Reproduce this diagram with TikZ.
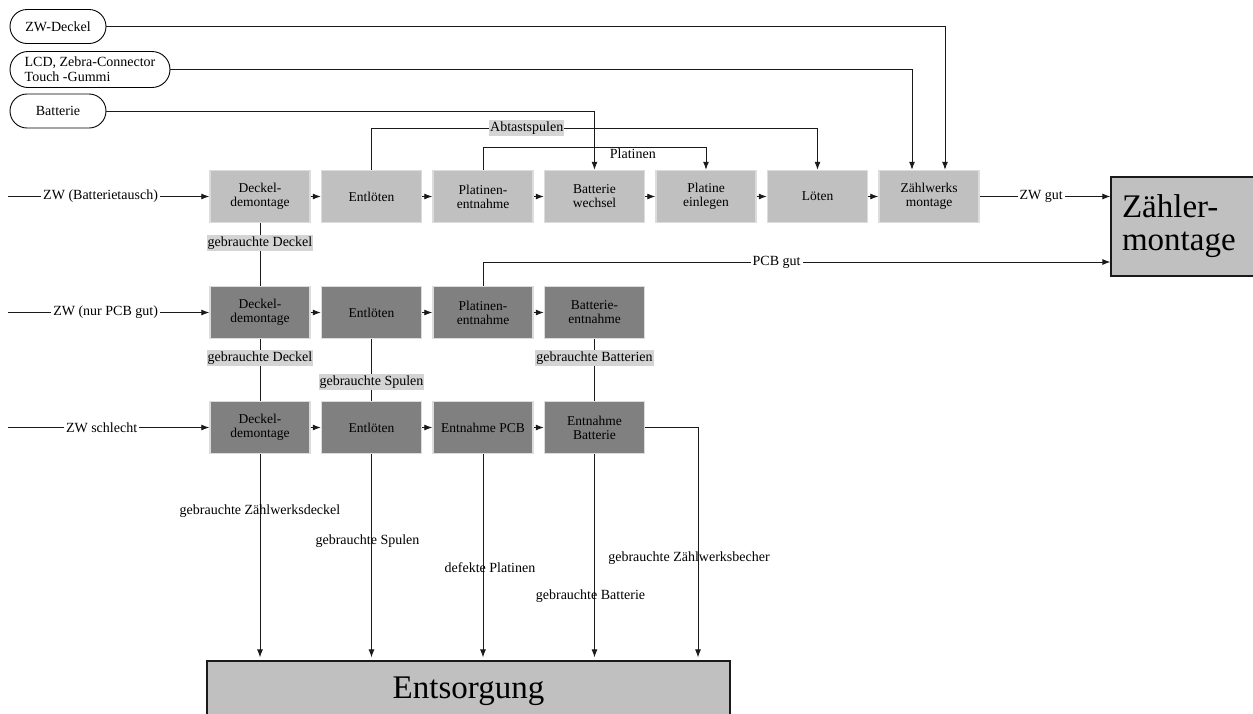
\documentclass[tikz,border=0pt]{standalone}
\usepackage{fontspec}
\setmainfont{Liberation Serif}
\usetikzlibrary{arrows.meta,shapes.misc,calc}
\definecolor{boxlight}{HTML}{C0C0C0}
\definecolor{boxdark}{HTML}{808080}
\definecolor{rim}{HTML}{DCDCDC}
\definecolor{lblbg}{HTML}{D4D4D4}
\definecolor{linec}{HTML}{1A1A1A}
\begin{document}
\begin{tikzpicture}[x=1pt,y=-1pt,
  font=\fontsize{14}{15}\selectfont,
  lnk/.style={draw=linec, line width=0.9pt},
  arr/.style={lnk, -{Latex[length=8pt,width=6pt]}},
  procL/.style={rectangle, fill=boxlight, draw=rim, line width=1.5pt,
    minimum width=100pt, minimum height=52pt, inner sep=1pt, align=center,
    font=\fontsize{13.5}{14}\selectfont},
  procD/.style={procL, fill=boxdark},
  grayl/.style={fill=lblbg, inner xsep=1pt, inner ysep=1.5pt},
  whitel/.style={fill=white, inner xsep=2pt, inner ysep=1pt},
  plainl/.style={inner sep=1pt},
  src/.style={rounded rectangle, draw=black, line width=0.9pt,
    minimum height=34pt, minimum width=100pt, inner sep=2pt},
  big/.style={rectangle, fill=boxlight, draw=linec, line width=1.2pt,
    font=\fontsize{33}{33}\selectfont}
]
\useasboundingbox (0,0) rectangle (1253,713);

% sources
\node[src] (zwd) at (58,26.5) {ZW-Deckel};
\node[src, minimum width=164pt, minimum height=36pt, align=left] (lcd) at (90,69.5) {LCD, Zebra-Connector\\Touch -Gummi};
\node[src] (bat) at (58,111) {Batterie};

% top row
\node[procL] (d1) at (260,196.5) {Deckel-\\demontage};
\node[procL] (e1) at (371.5,196.5) {Entlöten};
\node[procL] (p1) at (483,196.5) {Platinen-\\entnahme};
\node[procL] (bw) at (594.5,196.5) {Batterie\\wechsel};
\node[procL] (pe) at (706,196.5) {Platine\\einlegen};
\node[procL] (l1) at (817.5,196.5) {Löten};
\node[procL] (zwm) at (929,196.5) {Zählwerks\\montage};

% middle row
\node[procD] (d2) at (260,312.5) {Deckel-\\demontage};
\node[procD] (e2) at (371.5,312.5) {Entlöten};
\node[procD] (p2) at (483,312.5) {Platinen-\\entnahme};
\node[procD] (b2) at (594.5,312.5) {Batterie-\\entnahme};

% bottom row
\node[procD] (d3) at (260,427.5) {Deckel-\\demontage};
\node[procD] (e3) at (371.5,427.5) {Entlöten};
\node[procD] (p3) at (483,427.5) {Entnahme PCB};
\node[procD] (b3) at (594.5,427.5) {Entnahme\\Batterie};

% sinks
\node[big, minimum width=159pt, minimum height=99pt, text width=137pt, align=left, inner xsep=11pt] (zm) at (1190.5,226.5) {Zähler-\\montage};
\node[big, minimum width=523pt, minimum height=60pt] (ent) at (468.5,691) {Entsorgung};

% helper coordinates
\coordinate (in1) at (8,196.5);
\coordinate (in2) at (8,312.5);
\coordinate (in3) at (8,427.5);
\coordinate (abY) at (0,128);
\coordinate (plY) at (0,147);
\coordinate (pcbY) at (0,262);
\coordinate (bechX) at (698,0);

% source lines
\draw[arr] (zwd.east) -| ([xshift=16pt]zwm.north);
\draw[arr] (lcd.east) -| ([xshift=-17pt]zwm.north);
\draw[arr] (bat.east) -| (bw.north);

% material flows in top row
\draw[arr] (e1.north) |- node[pos=0.674, grayl]{Abtastspulen} (abY -| l1.north) -- (l1.north);
\draw[arr] (p1.north) |- node[pos=0.836, anchor=north, plainl]{Platinen} (plY -| pe.north) -- (pe.north);

% inter-box arrows
\foreach \a/\b in {d1/e1,e1/p1,p1/bw,bw/pe,pe/l1,l1/zwm,d2/e2,e2/p2,p2/b2,d3/e3,e3/p3,p3/b3}
  \draw[arr] (\a) -- (\b);

% inputs
\draw[arr] (in1) -- node[pos=0.46, whitel]{ZW (Batterietausch)} (d1.west);
\draw[arr] (in2) -- node[pos=0.485, whitel]{ZW (nur PCB gut)} (d2.west);
\draw[arr] (in3) -- node[pos=0.465, whitel]{ZW schlecht} (d3.west);

% outputs to Zählermontage
\draw[arr] (zwm.east) -- node[pos=0.47, whitel]{ZW gut} (zwm.east -| zm.west);
\draw[arr] (p2.north) |- node[pos=0.734, whitel]{PCB gut} (pcbY -| zm.west);

% vertical links
\draw[lnk] (d1) -- node[pos=0.32, grayl]{gebrauchte Deckel} (d2);
\draw[lnk] (d2) -- node[pos=0.31, grayl]{gebrauchte Deckel} (d3);
\draw[lnk] (e2) -- node[pos=0.69, grayl]{gebrauchte Spulen} (e3);
\draw[lnk] (b2) -- node[pos=0.31, grayl]{gebrauchte Batterien} (b3);

% to Entsorgung
\draw[arr, shorten >=3pt] (d3.south) -- node[pos=0.277, plainl]{gebrauchte Zählwerksdeckel} (d3.south |- ent.north);
\draw[arr, shorten >=3pt] (e3.south) -- node[pos=0.42, plainl, xshift=-4pt]{gebrauchte Spulen} (e3.south |- ent.north);
\draw[arr, shorten >=3pt] (p3.south) -- node[pos=0.55, plainl, xshift=7pt]{defekte Platinen} (p3.south |- ent.north);
\draw[arr, shorten >=3pt] (b3.south) -- node[pos=0.69, plainl, xshift=-4pt]{gebrauchte Batterie} (b3.south |- ent.north);
\draw[arr, shorten >=3pt] (b3.east) -| node[pos=0.78, plainl, xshift=-9pt]{gebrauchte Zählwerksbecher} (bechX |- ent.north);
\end{tikzpicture}
\end{document}
